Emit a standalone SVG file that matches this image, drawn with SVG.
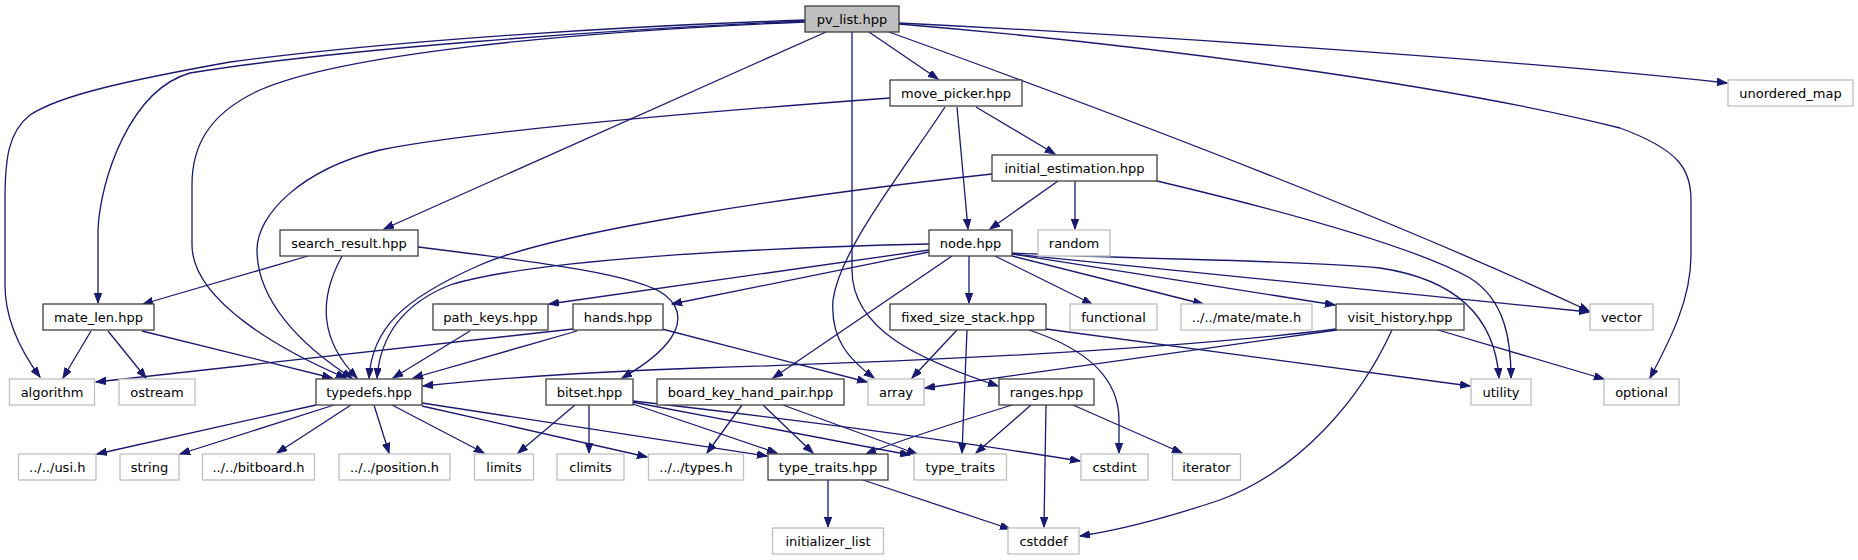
<svg xmlns="http://www.w3.org/2000/svg" width="1858" height="560" viewBox="0 0 1858 560">
<style>
.e{fill:none;stroke:#191970;stroke-width:1.3;marker-end:url(#ah)}
.n rect{fill:#fff;stroke:#404040;stroke-width:1.3}
.x rect{fill:#fff;stroke:#bfbfbf;stroke-width:1.3}
.r rect{fill:#bfbfbf;stroke:#404040;stroke-width:1.3}
text{font-family:"DejaVu Sans","Liberation Sans",sans-serif;font-size:13px;fill:#000;text-anchor:middle}
</style>
<defs>
<marker id="ah" markerUnits="userSpaceOnUse" markerWidth="11" markerHeight="8" refX="10" refY="3.7" orient="auto">
<path d="M0,0 L10,3.7 L0,7.4 Z" fill="#191970" stroke="#191970" stroke-width="1"/>
</marker>
</defs>
<rect width="1858" height="560" fill="#fff"/>
<g id="edges">
<path class="e" d="M805,20 C600,27 380,42 230,62 C130,80 60,95 30,115 C8,132 5,160 5,200 L5,285 C5,320 20,350 40,377"/>
<path class="e" d="M805,21 C600,30 330,50 190,73 C130,90 100,180 98,230 L98,303"/>
<path class="e" d="M805,22 C560,32 340,55 260,90 C205,115 192,150 192,185 L192,245 C192,300 280,350 346,378"/>
<path class="e" d="M826,32 L384,229"/>
<path class="e" d="M869,32 L938,79"/>
<path class="e" d="M852,32 L852,270 C852,330 920,360 998,386"/>
<path class="e" d="M889,32 C1050,90 1350,200 1589,311"/>
<path class="e" d="M899,23 C1100,33 1500,58 1727,83"/>
<path class="e" d="M899,24 C1150,45 1450,85 1620,128 C1680,150 1691,170 1691,200 L1691,255 C1691,300 1670,340 1650,378"/>
<path class="e" d="M890,98 C700,112 480,130 380,150 C300,170 257,215 257,250 C257,300 300,345 352,378"/>
<path class="e" d="M945,107 C900,175 840,250 833,300 C830,340 850,360 874,378"/>
<path class="e" d="M957,107 L968,229"/>
<path class="e" d="M976,107 L1055,154"/>
<path class="e" d="M992,174 C800,195 560,230 480,265 C400,300 372,330 369,378"/>
<path class="e" d="M1058,181 L990,229"/>
<path class="e" d="M1075,181 L1075,229"/>
<path class="e" d="M1157,181 C1300,215 1420,250 1470,278 C1505,300 1511,340 1511,378"/>
<path class="e" d="M1012,253 C1150,260 1300,260 1380,268 C1460,280 1495,320 1499,378"/>
<path class="e" d="M1012,254 L1589,312"/>
<path class="e" d="M1012,254 L1335,305"/>
<path class="e" d="M1012,256 L1203,304"/>
<path class="e" d="M995,256 L1092,304"/>
<path class="e" d="M969,256 L969,303"/>
<path class="e" d="M952,256 L773,378"/>
<path class="e" d="M929,244 C750,248 530,260 450,285 C400,305 380,340 377,378"/>
<path class="e" d="M929,250 L549,304"/>
<path class="e" d="M929,252 L672,304"/>
<path class="e" d="M308,256 L143,304"/>
<path class="e" d="M342,256 C318,300 320,340 357,378"/>
<path class="e" d="M418,247 C540,262 640,275 665,295 C690,315 680,345 622,378"/>
<path class="e" d="M91,331 L63,378"/>
<path class="e" d="M108,331 L146,378"/>
<path class="e" d="M142,331 L332,378"/>
<path class="e" d="M470,331 L393,378"/>
<path class="e" d="M577,331 L413,378"/>
<path class="e" d="M573,329 L96,382"/>
<path class="e" d="M662,329 L867,382"/>
<path class="e" d="M316,405 L97,454"/>
<path class="e" d="M334,405 L180,454"/>
<path class="e" d="M351,405 L277,453"/>
<path class="e" d="M374,405 L389,453"/>
<path class="e" d="M392,405 L484,453"/>
<path class="e" d="M422,403 L767,456"/>
<path class="e" d="M422,406 L647,457"/>
<path class="e" d="M575,405 L518,453"/>
<path class="e" d="M589,405 L589,453"/>
<path class="e" d="M630,403 L777,453"/>
<path class="e" d="M632,402 L910,455"/>
<path class="e" d="M633,401 C800,420 950,440 1080,461"/>
<path class="e" d="M742,405 L707,453"/>
<path class="e" d="M763,405 L813,453"/>
<path class="e" d="M783,405 L917,454"/>
<path class="e" d="M957,330 L912,378"/>
<path class="e" d="M967,330 L962,453"/>
<path class="e" d="M1029,330 C1090,350 1119,380 1119,420 L1119,453"/>
<path class="e" d="M1046,329 L1470,386"/>
<path class="e" d="M1012,405 C980,415 900,440 866,454"/>
<path class="e" d="M1031,405 L976,453"/>
<path class="e" d="M1046,405 L1044,527"/>
<path class="e" d="M1073,405 L1182,453"/>
<path class="e" d="M1336,329 C1150,352 900,362 700,368 C560,373 480,380 423,386"/>
<path class="e" d="M1337,330 L925,388"/>
<path class="e" d="M1438,330 L1604,379"/>
<path class="e" d="M1392,330 C1360,400 1300,470 1220,500 C1160,520 1120,530 1080,536"/>
<path class="e" d="M828,480 L828,527"/>
<path class="e" d="M863,480 L1010,529"/>
</g>
<g id="pv_list" class="r"><rect x="805" y="6" width="94" height="26"/><text x="852" y="23.5">pv_list.hpp</text></g>
<g id="move_picker" class="n"><rect x="890" y="80" width="132" height="26"/><text x="956" y="97.5">move_picker.hpp</text></g>
<g id="unordered_map" class="x"><rect x="1728" y="80" width="125" height="26"/><text x="1790.5" y="97.5">unordered_map</text></g>
<g id="initial_estimation" class="n"><rect x="992" y="155" width="165" height="26"/><text x="1074.5" y="172.5">initial_estimation.hpp</text></g>
<g id="search_result" class="n"><rect x="280" y="230" width="138" height="26"/><text x="349" y="247.5">search_result.hpp</text></g>
<g id="node" class="n"><rect x="929" y="230" width="83" height="26"/><text x="970.5" y="247.5">node.hpp</text></g>
<g id="random" class="x"><rect x="1038" y="230" width="72" height="26"/><text x="1074" y="247.5">random</text></g>
<g id="mate_len" class="n"><rect x="43" y="304" width="111" height="26"/><text x="98.5" y="321.5">mate_len.hpp</text></g>
<g id="path_keys" class="n"><rect x="433" y="304" width="115" height="26"/><text x="490.5" y="321.5">path_keys.hpp</text></g>
<g id="hands" class="n"><rect x="573" y="304" width="90" height="26"/><text x="618" y="321.5">hands.hpp</text></g>
<g id="fixed_size_stack" class="n"><rect x="890" y="304" width="156" height="26"/><text x="968" y="321.5">fixed_size_stack.hpp</text></g>
<g id="functional" class="x"><rect x="1070" y="304" width="87" height="26"/><text x="1113.5" y="321.5">functional</text></g>
<g id="mate_h" class="x"><rect x="1181" y="304" width="131" height="26"/><text x="1246.5" y="321.5">../../mate/mate.h</text></g>
<g id="visit_history" class="n"><rect x="1336" y="304" width="128" height="26"/><text x="1400" y="321.5">visit_history.hpp</text></g>
<g id="vector" class="x"><rect x="1590" y="304" width="63" height="26"/><text x="1621.5" y="321.5">vector</text></g>
<g id="algorithm" class="x"><rect x="9.5" y="379" width="85" height="26"/><text x="52" y="396.5">algorithm</text></g>
<g id="ostream" class="x"><rect x="119" y="379" width="76" height="26"/><text x="157" y="396.5">ostream</text></g>
<g id="typedefs" class="n"><rect x="316" y="379" width="106" height="26"/><text x="369" y="396.5">typedefs.hpp</text></g>
<g id="bitset" class="n"><rect x="546" y="379" width="87" height="26"/><text x="589.5" y="396.5">bitset.hpp</text></g>
<g id="board_key_hand_pair" class="n"><rect x="657" y="379" width="187" height="26"/><text x="750.5" y="396.5">board_key_hand_pair.hpp</text></g>
<g id="array" class="x"><rect x="868" y="379" width="56" height="26"/><text x="896" y="396.5">array</text></g>
<g id="ranges" class="n"><rect x="999" y="379" width="95" height="26"/><text x="1046.5" y="396.5">ranges.hpp</text></g>
<g id="utility" class="x"><rect x="1471" y="379" width="60" height="26"/><text x="1501" y="396.5">utility</text></g>
<g id="optional" class="x"><rect x="1604" y="379" width="75" height="26"/><text x="1641.5" y="396.5">optional</text></g>
<g id="usi_h" class="x"><rect x="18.5" y="454" width="77.5" height="26"/><text x="57.25" y="471.5">../../usi.h</text></g>
<g id="string" class="x"><rect x="120" y="454" width="59" height="26"/><text x="149.5" y="471.5">string</text></g>
<g id="bitboard_h" class="x"><rect x="202.5" y="454" width="112" height="26"/><text x="258.5" y="471.5">../../bitboard.h</text></g>
<g id="position_h" class="x"><rect x="339" y="454" width="111" height="26"/><text x="394.5" y="471.5">../../position.h</text></g>
<g id="limits" class="x"><rect x="474.5" y="454" width="59" height="26"/><text x="504" y="471.5">limits</text></g>
<g id="climits" class="x"><rect x="557" y="454" width="67" height="26"/><text x="590.5" y="471.5">climits</text></g>
<g id="types_h" class="x"><rect x="648.5" y="454" width="95" height="26"/><text x="696" y="471.5">../../types.h</text></g>
<g id="type_traits_hpp" class="n"><rect x="768" y="454" width="120" height="26"/><text x="828" y="471.5">type_traits.hpp</text></g>
<g id="type_traits" class="x"><rect x="914" y="454" width="92.5" height="26"/><text x="960.25" y="471.5">type_traits</text></g>
<g id="cstdint" class="x"><rect x="1081" y="454" width="67" height="26"/><text x="1114.5" y="471.5">cstdint</text></g>
<g id="iterator" class="x"><rect x="1172.5" y="454" width="68" height="26"/><text x="1206.5" y="471.5">iterator</text></g>
<g id="initializer_list" class="x"><rect x="772.5" y="528" width="111" height="26"/><text x="828" y="545.5">initializer_list</text></g>
<g id="cstddef" class="x"><rect x="1008" y="528" width="71" height="26"/><text x="1043.5" y="545.5">cstddef</text></g>
</svg>
